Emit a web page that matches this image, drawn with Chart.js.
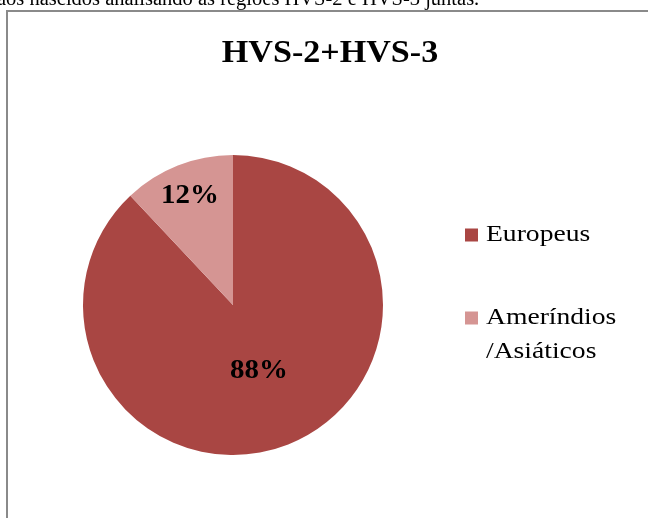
<!DOCTYPE html>
<html>
<head>
<meta charset="utf-8">
<script src="https://cdn.jsdelivr.net/npm/chart.js@4/dist/chart.umd.min.js"></script>
<style>
  html, body { margin: 0; padding: 0; background: #ffffff; overflow: hidden; }
  #wrap { position: relative; width: 648px; height: 518px; }
  canvas { display: block; }
</style>
</head>
<body>
<div id="wrap"><canvas id="c" width="648" height="518"></canvas></div>
<script>
const categories = ["Europeus", "Ameríndios/Asiáticos"];
const legendLines = [["Europeus"], ["Ameríndios", "/Asiáticos"]];
const values = [88, 12];
const valueLabels = ["88%", "12%"];
const chartTitle = "HVS-2+HVS-3";
const captionText = "aos nascidos analisando as regiões HVS-2 e HVS-3 juntas.";

const colors = ["#A94643", "#D59593"];
const labelRadiusFrac = [0.47, 0.78];
const serif = '"Liberation Serif", "Times New Roman", serif';

function stretchText(ctx, text, x, y, sx) {
  ctx.save();
  ctx.translate(x, y);
  ctx.scale(sx, 1);
  ctx.fillText(text, 0, 0);
  ctx.restore();
}

const decor = {
  id: "decor",
  beforeDraw(chart) {
    const ctx = chart.ctx;
    ctx.save();
    ctx.fillStyle = "#ffffff";
    ctx.fillRect(0, 0, chart.width, chart.height);
    ctx.fillStyle = "#000000";
    ctx.font = "20px " + serif;
    ctx.textBaseline = "alphabetic";
    ctx.textAlign = "left";
    stretchText(ctx, captionText, -3, 5, 1.025);
    ctx.strokeStyle = "#8a8a8a";
    ctx.lineWidth = 2;
    ctx.strokeRect(7, 11, 700, 600);
    ctx.font = "bold 31px " + serif;
    ctx.textAlign = "center";
    stretchText(ctx, chartTitle, 330, 62, 1.1);
    ctx.restore();
  },
  afterDatasetsDraw(chart) {
    const ctx = chart.ctx;
    const meta = chart.getDatasetMeta(0);
    ctx.save();
    ctx.fillStyle = "#000000";
    ctx.font = "bold 27px " + serif;
    ctx.textAlign = "center";
    ctx.textBaseline = "middle";
    meta.data.forEach((arc, i) => {
      const p = arc.getProps(["x", "y", "startAngle", "endAngle", "outerRadius"], true);
      const mid = (p.startAngle + p.endAngle) / 2;
      const r = p.outerRadius * labelRadiusFrac[i];
      stretchText(ctx, valueLabels[i], p.x + Math.cos(mid) * r, p.y + Math.sin(mid) * r, 1.07);
    });
    const lx = 465, boxSize = 13;
    const ys = [235, 318];
    ctx.font = "24px " + serif;
    ctx.textAlign = "left";
    ctx.textBaseline = "middle";
    legendLines.forEach((lines, i) => {
      ctx.fillStyle = colors[i];
      ctx.fillRect(lx, ys[i] - boxSize / 2, boxSize, boxSize);
      ctx.fillStyle = "#000000";
      lines.forEach((t, j) => stretchText(ctx, t, lx + 21, ys[i] + j * 34, 1.15));
    });
    ctx.restore();
  }
};

new Chart(document.getElementById("c"), {
  type: "pie",
  data: {
    labels: categories,
    datasets: [{
      data: values,
      backgroundColor: colors,
      borderColor: "#ffffff",
      borderWidth: 0
    }]
  },
  options: {
    responsive: false,
    animation: false,
    layout: { padding: { left: 83, right: 265, top: 155, bottom: 63 } },
    plugins: {
      legend: { display: false },
      title: { display: false },
      tooltip: { enabled: false }
    }
  },
  plugins: [decor]
});
</script>
</body>
</html>
